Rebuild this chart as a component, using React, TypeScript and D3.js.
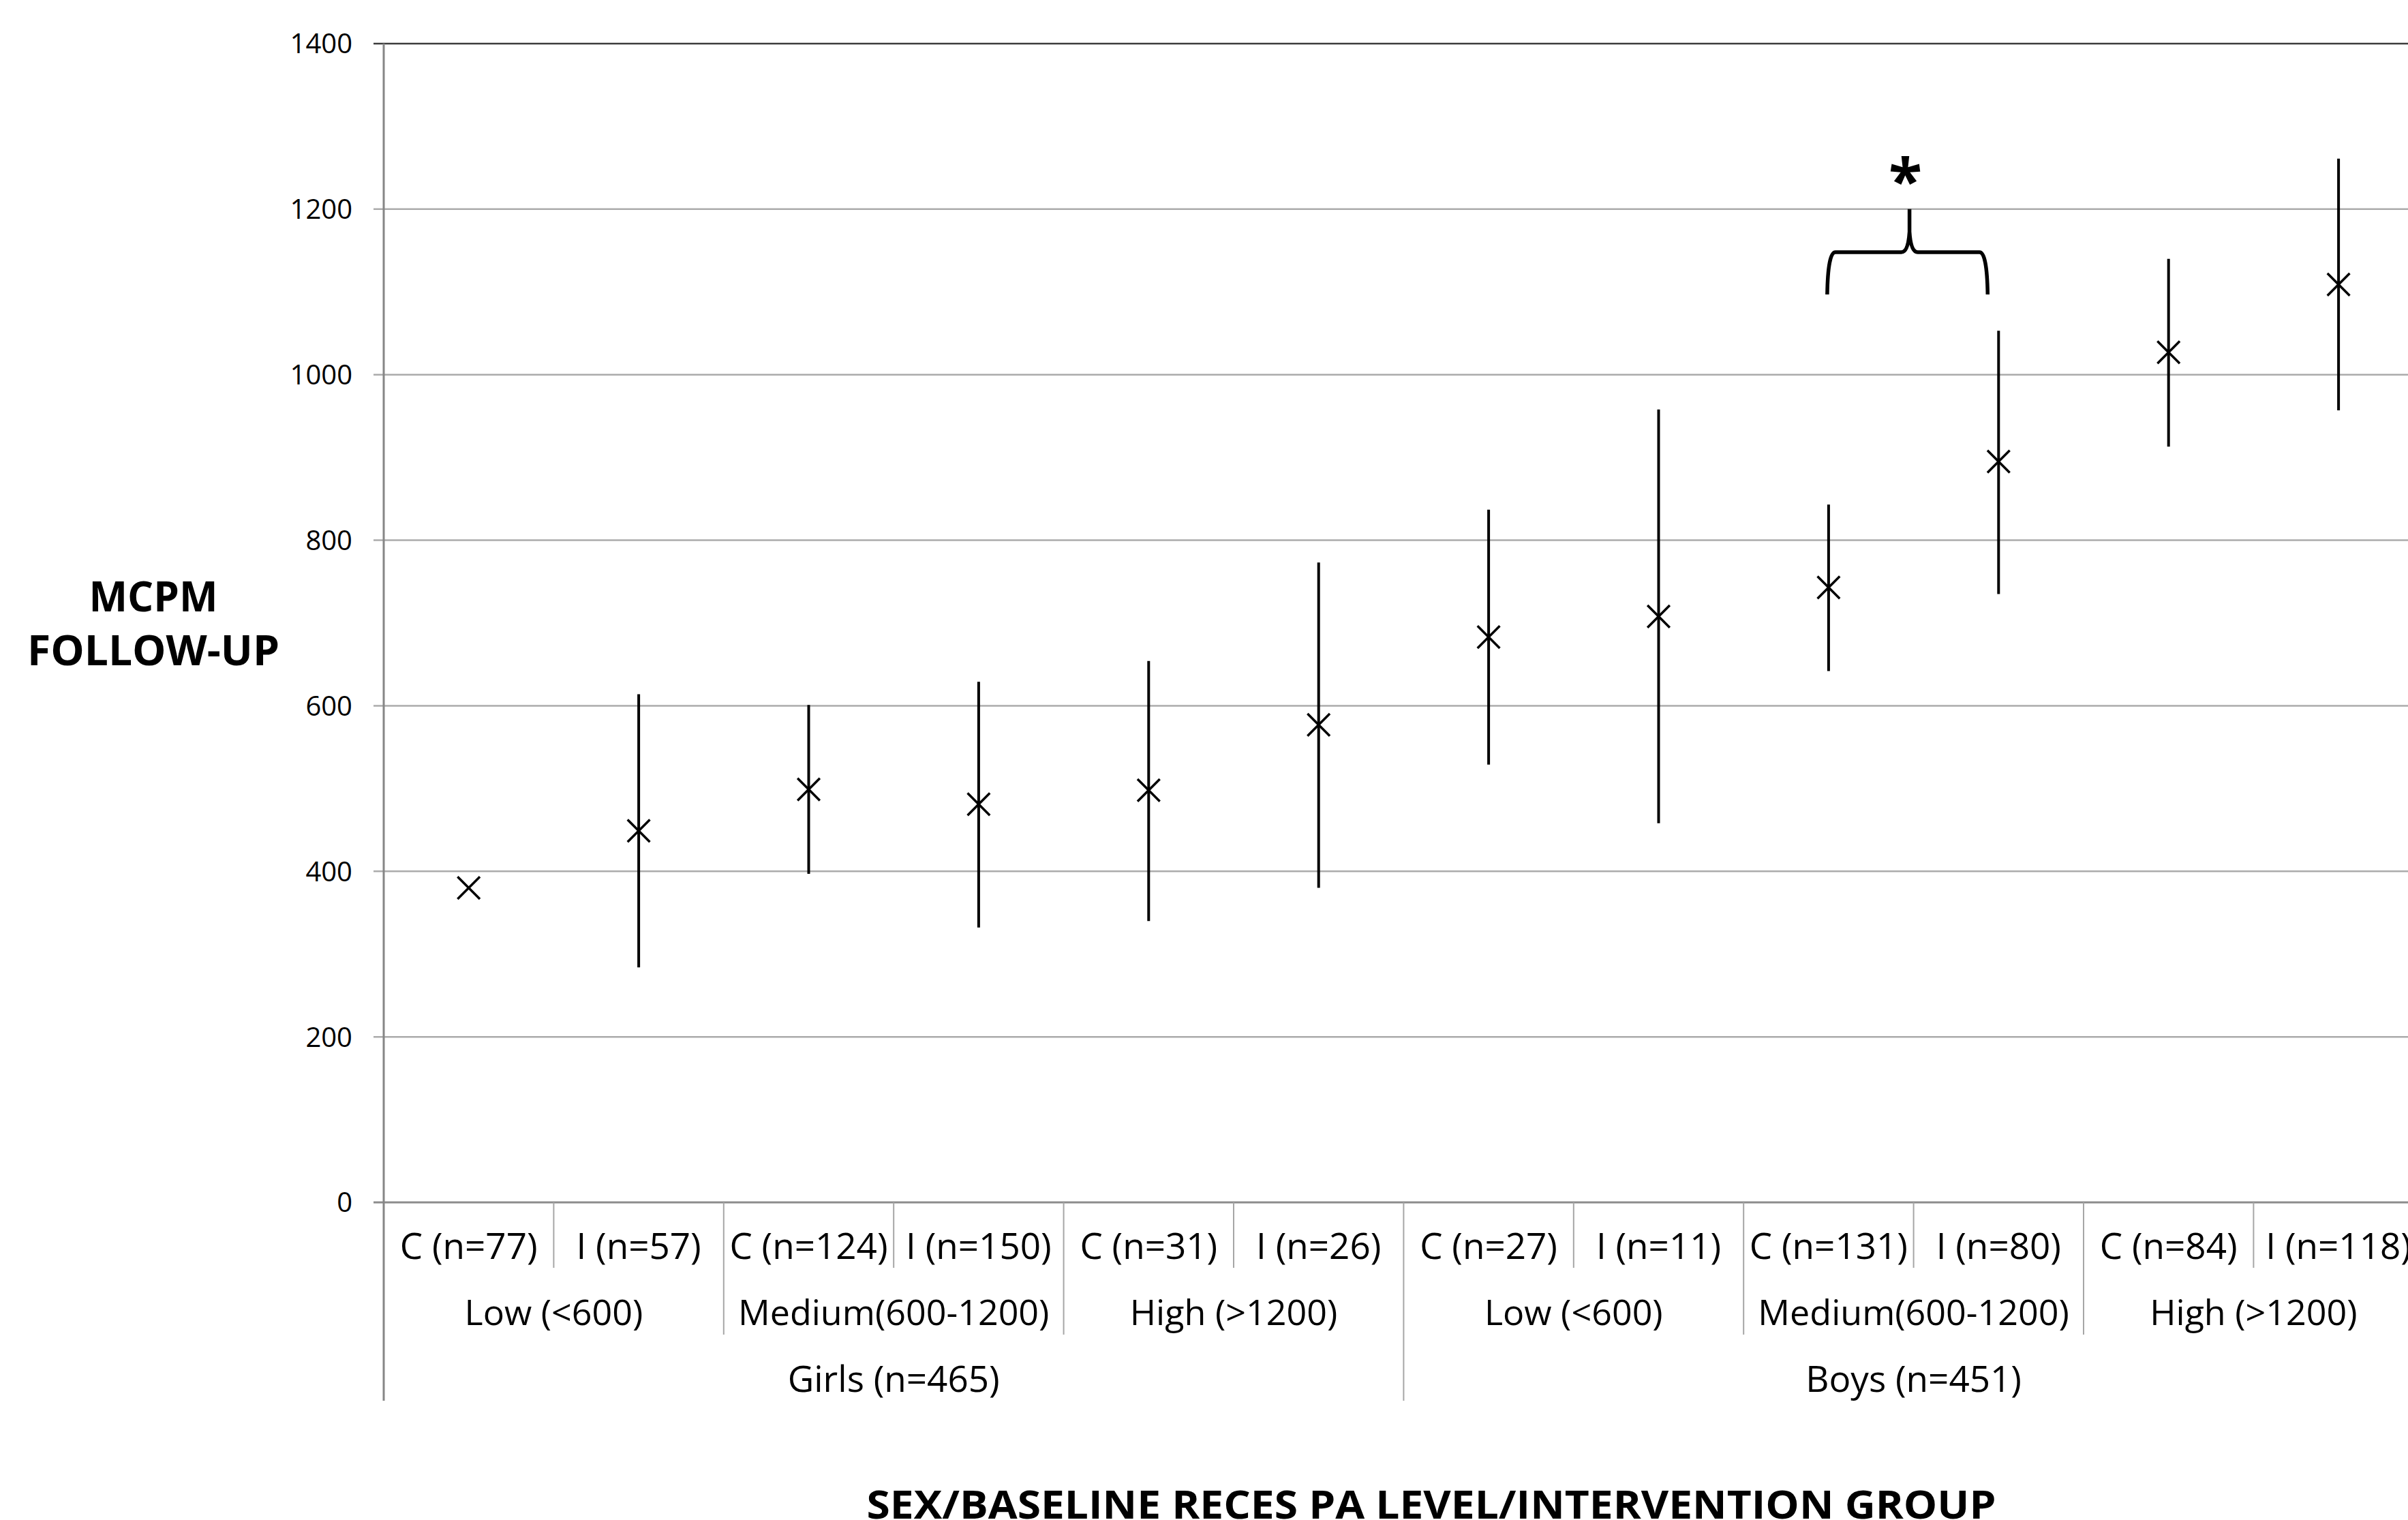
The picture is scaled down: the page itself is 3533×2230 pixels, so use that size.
import React, { useRef, useEffect } from "react";
import * as d3 from "d3";

// categories (innermost level first)
const groups = [
  "C (n=77)", "I (n=57)", "C (n=124)", "I (n=150)", "C (n=31)", "I (n=26)",
  "C (n=27)", "I (n=11)", "C (n=131)", "I (n=80)", "C (n=84)", "I (n=118)",
];
const levels = [
  "Low (<600)", "Medium(600-1200)", "High (>1200)",
  "Low (<600)", "Medium(600-1200)", "High (>1200)",
];
const sexes = ["Girls (n=465)", "Boys (n=451)"];

// MCPM follow-up mean and error bar ends
const means = [380, 449, 499, 481, 498, 577, 683, 708, 743, 895, 1027, 1109];
const upper = [null, 614, 601, 629, 654, 773, 837, 958, 843, 1053, 1140, 1261];
const lower = [null, 284, 397, 332, 340, 380, 529, 458, 642, 735, 913, 957];

const yTicks = [0, 200, 400, 600, 800, 1000, 1200, 1400];

// significance brace between C (n=131) and I (n=80)
const braceFrom = 8;
const braceTo = 9;
const braceLevels = [1097, 1148, 1200]; // ends, bar, tip

function App() {
  const svgRef = useRef(null);
  const width = 3533;
  const height = 2230;

  useEffect(() => {
    const svg = d3.select(svgRef.current);
    svg.selectAll("*").remove();

    const left = 563;
    const top = 64;
    const bottom = 1764;
    const bandW = 249.4;
    const font = "'Open Sans', 'DejaVu Sans', sans-serif";

    const x = d3
      .scaleBand()
      .domain(groups.map((g, i) => i))
      .range([left, left + bandW * groups.length]);
    const y = d3.scaleLinear().domain([0, 1400]).range([bottom, top]);
    const cx = (i) => x(i) + x.bandwidth() / 2;
    const right = left + bandW * groups.length;

    // gridlines + ticks
    svg
      .selectAll("line.grid")
      .data(yTicks)
      .enter()
      .append("line")
      .attr("class", "grid")
      .attr("x1", left - 15)
      .attr("x2", right)
      .attr("y1", (d) => y(d))
      .attr("y2", (d) => y(d))
      .style("stroke", (d) => (d === 1400 ? "#3c3c3c" : d === 0 ? "#8c8c8c" : "#ababab"))
      .style("stroke-width", (d) => (d === 0 ? 3 : 2.5));

    svg
      .selectAll("text.ytick")
      .data(yTicks)
      .enter()
      .append("text")
      .attr("class", "ytick")
      .attr("x", left - 46)
      .attr("y", (d) => y(d))
      .attr("dy", "0.36em")
      .attr("text-anchor", "end")
      .style("font-family", font)
      .style("font-size", "40px")
      .text((d) => d);

    // left axis, running down through the label rows
    svg
      .append("line")
      .attr("x1", left)
      .attr("x2", left)
      .attr("y1", top)
      .attr("y2", 2055)
      .style("stroke", "#868686")
      .style("stroke-width", 3);

    // category separators (three depths)
    const seps = [];
    for (let i = 1; i <= groups.length; i++) {
      let depth = 1860;
      if (i % 2 === 0) depth = 1958;
      if (i % 6 === 0) depth = 2055;
      seps.push({ x: left + i * bandW, y2: depth });
    }
    svg
      .selectAll("line.sep")
      .data(seps)
      .enter()
      .append("line")
      .attr("class", "sep")
      .attr("x1", (d) => d.x)
      .attr("x2", (d) => d.x)
      .attr("y1", bottom)
      .attr("y2", (d) => d.y2)
      .style("stroke", "#a6a6a6")
      .style("stroke-width", 2);

    // label rows
    svg
      .selectAll("text.grp")
      .data(groups)
      .enter()
      .append("text")
      .attr("class", "grp")
      .attr("x", (d, i) => cx(i))
      .attr("y", 1847)
      .attr("text-anchor", "middle")
      .style("font-family", font)
      .style("font-size", "53px")
      .text((d) => d);

    svg
      .selectAll("text.lvl")
      .data(levels)
      .enter()
      .append("text")
      .attr("class", "lvl")
      .attr("x", (d, i) => left + (i * 2 + 1) * bandW)
      .attr("y", 1944)
      .attr("text-anchor", "middle")
      .style("font-family", font)
      .style("font-size", "52px")
      .text((d) => d);

    svg
      .selectAll("text.sex")
      .data(sexes)
      .enter()
      .append("text")
      .attr("class", "sex")
      .attr("x", (d, i) => left + (i * 6 + 3) * bandW)
      .attr("y", 2042)
      .attr("text-anchor", "middle")
      .style("font-family", font)
      .style("font-size", "53px")
      .text((d) => d);

    // error bars
    const bars = means.map((m, i) => ({ i, hi: upper[i], lo: lower[i] })).filter((d) => d.hi != null);
    svg
      .selectAll("line.err")
      .data(bars)
      .enter()
      .append("line")
      .attr("class", "err")
      .attr("x1", (d) => cx(d.i))
      .attr("x2", (d) => cx(d.i))
      .attr("y1", (d) => y(d.hi))
      .attr("y2", (d) => y(d.lo))
      .style("stroke", "#000")
      .style("stroke-width", 4);

    // x markers
    const cross = d3.symbol().type(d3.symbolX).size(700);
    svg
      .selectAll("path.mark")
      .data(means)
      .enter()
      .append("path")
      .attr("class", "mark")
      .attr("d", cross)
      .attr("transform", (d, i) => `translate(${cx(i)},${y(d)})`)
      .style("fill", "none")
      .style("stroke", "#000")
      .style("stroke-width", 3.5);

    // brace
    const xl = cx(braceFrom) - 2;
    const xr = cx(braceTo) - 16;
    const xm = (xl + xr) / 2 + 3;
    const [yEnd, yBar, yTip] = braceLevels.map((v) => y(v));
    const brace = d3.path();
    brace.moveTo(xl, yEnd);
    brace.quadraticCurveTo(xl + 1, yBar, xl + 12, yBar);
    brace.lineTo(xm - 12, yBar);
    brace.quadraticCurveTo(xm - 2, yBar, xm, yBar - 30);
    brace.lineTo(xm, yTip);
    brace.moveTo(xm, yBar - 30);
    brace.quadraticCurveTo(xm + 2, yBar, xm + 12, yBar);
    brace.lineTo(xr - 12, yBar);
    brace.quadraticCurveTo(xr - 1, yBar, xr, yEnd);
    svg
      .append("path")
      .attr("d", brace.toString())
      .style("fill", "none")
      .style("stroke", "#000")
      .style("stroke-width", 5.5);

    svg
      .append("text")
      .attr("x", xm - 6)
      .attr("y", yTip - 10)
      .attr("text-anchor", "middle")
      .style("font-family", font)
      .style("font-weight", "bold")
      .style("font-size", "90px")
      .text("*");

    // axis titles
    svg
      .append("text")
      .attr("x", 225)
      .attr("y", 897)
      .attr("text-anchor", "middle")
      .style("font-family", font)
      .style("font-weight", "bold")
      .style("font-size", "60px")
      .text("MCPM");
    svg
      .append("text")
      .attr("x", 225)
      .attr("y", 976)
      .attr("text-anchor", "middle")
      .attr("textLength", 370)
      .attr("lengthAdjust", "spacingAndGlyphs")
      .style("font-family", font)
      .style("font-weight", "bold")
      .style("font-size", "60px")
      .text("FOLLOW-UP");

    svg
      .append("text")
      .attr("x", 2100)
      .attr("y", 2228)
      .attr("text-anchor", "middle")
      .attr("textLength", 1657)
      .attr("lengthAdjust", "spacingAndGlyphs")
      .style("font-family", font)
      .style("font-weight", "bold")
      .style("font-size", "58px")
      .text("SEX/BASELINE RECES PA LEVEL/INTERVENTION GROUP");
  }, []);

  return (
    <svg
      ref={svgRef}
      width={width}
      height={height}
      style={{ position: "absolute", left: 0, top: 0, background: "#fff", display: "block" }}
    ></svg>
  );
}

export default App;
